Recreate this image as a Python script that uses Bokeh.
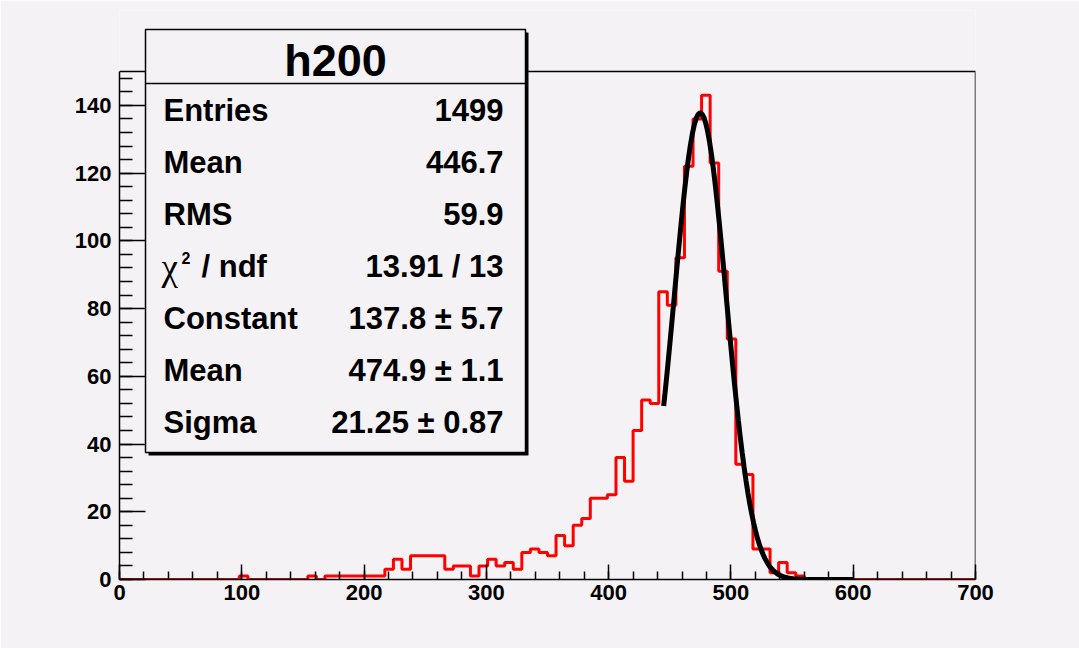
import numpy as np
from bokeh.plotting import figure
from bokeh.models import Range1d, SingleIntervalTicker
from bokeh.core.properties import value
from bokeh.embed import file_html
from bokeh.resources import INLINE

# ---- histogram h200: 100 bins over [0, 700] ----
X_MIN, X_MAX, N_BINS = 0, 700, 100
Y_MAX = 150

counts = [
    0, 0, 0, 0, 0, 0, 0, 0, 0, 0,
    0, 0, 0, 0, 1, 0, 0, 0, 0, 0,
    0, 0, 1, 0, 1, 1, 1, 1, 1, 1,
    1, 3, 6, 3, 7, 7, 7, 7, 3, 4,
    4, 1, 4, 6, 4, 5, 3, 8, 9, 8,
    7, 13, 10, 16, 18, 24, 24, 25, 36, 29,
    44, 53, 52, 85, 81, 95, 122, 136, 143, 123,
    91, 71, 34, 31, 9, 9, 2, 5, 2, 1,
    0, 0, 0, 0, 0, 0, 0, 0, 0, 0,
    0, 0, 0, 0, 0, 0, 0, 0, 0, 0,
]

# gaussian fit result
FIT_CONSTANT = 137.8
FIT_MEAN = 474.9
FIT_SIGMA = 21.25
FIT_RANGE = (445, 600)

# statistics box
stat_title = "h200"
stat_names = ["Entries", "Mean", "RMS", None, "Constant", "Mean", "Sigma"]
stat_values = ["1499", "446.7", "59.9", "13.91 / 13",
               "137.8 \u00b1 5.7", "474.9 \u00b1 1.1", "21.25 \u00b1 0.87"]

# ---- canvas layout (pixels) ----
W, H = 1079, 648
FRAME_L, FRAME_R = 119, 975
FRAME_T, FRAME_B = 10, 579          # plotting area (includes room for the stats box)
HIST_TOP_PX = 71                    # pixel row of y = Y_MAX
PX_PER_X = (FRAME_R - FRAME_L) / (X_MAX - X_MIN)
PX_PER_Y = (FRAME_B - HIST_TOP_PX) / Y_MAX
Y_TOP = (FRAME_B - FRAME_T) / PX_PER_Y

PAD = "#f5f2f5"
FONT = value("Liberation Sans")


def dx(px):
    return X_MIN + (px - FRAME_L) / PX_PER_X


def dy(py):
    return (FRAME_B - py) / PX_PER_Y


p = figure(width=W, height=H, title=None,
           x_range=Range1d(X_MIN, X_MAX), y_range=Range1d(0, Y_TOP),
           output_backend="svg", toolbar_location=None,
           min_border_left=FRAME_L, min_border_right=W - FRAME_R,
           min_border_top=FRAME_T, min_border_bottom=H - FRAME_B,
           background_fill_color=PAD, border_fill_color=PAD,
           outline_line_color=None)
p.grid.visible = False

# axes, ROOT style: ticks pointing into the frame
p.xaxis.ticker = SingleIntervalTicker(interval=100, num_minor_ticks=5)
p.yaxis.ticker = SingleIntervalTicker(interval=20, num_minor_ticks=5)
p.yaxis.bounds = (0, Y_MAX)
for ax, major, minor, standoff in ((p.xaxis, 15, 8, 5), (p.yaxis, 26, 13, 8)):
    ax.major_tick_in = major
    ax.major_tick_out = 0
    ax.minor_tick_in = minor
    ax.minor_tick_out = 0
    ax.axis_line_color = "black"
    ax.axis_line_width = 1.5
    ax.major_tick_line_color = "black"
    ax.major_tick_line_width = 1.5
    ax.minor_tick_line_color = "black"
    ax.minor_tick_line_width = 1.5
    ax.major_label_text_font = "Liberation Sans"
    ax.major_label_text_font_style = "bold"
    ax.major_label_text_font_size = "22px"
    ax.major_label_text_color = "black"
    ax.major_label_standoff = standoff

# top and right edges of the histogram frame
p.line([X_MIN, X_MAX, X_MAX], [Y_MAX, Y_MAX, 0], line_color="black", line_width=1.5)

# histogram outline
edges = np.linspace(X_MIN, X_MAX, N_BINS + 1)
heights = np.append(np.array(counts, dtype=float), counts[-1])
p.step(edges, heights, mode="after", line_color="red", line_width=3)

# fitted gaussian
fx = np.linspace(FIT_RANGE[0], FIT_RANGE[1], 100)
fy = FIT_CONSTANT * np.exp(-0.5 * ((fx - FIT_MEAN) / FIT_SIGMA) ** 2)
p.line(fx, fy, line_color="black", line_width=5)

# statistics box with shadow
BOX_L, BOX_R, BOX_T, BOX_B, BOX_SEP, SHADOW = 145, 525, 29, 452, 83, 3
p.quad(left=[dx(BOX_L + SHADOW)], right=[dx(BOX_R + SHADOW)],
       top=[dy(BOX_T + SHADOW)], bottom=[dy(BOX_B + SHADOW)],
       fill_color="black", line_color=None)
p.quad(left=[dx(BOX_L)], right=[dx(BOX_R)], top=[dy(BOX_T)], bottom=[dy(BOX_B)],
       fill_color=PAD, line_color="black", line_width=1.5)
p.line([dx(BOX_L), dx(BOX_R)], [dy(BOX_SEP), dy(BOX_SEP)], line_color="black", line_width=1.5)

p.text(x=[dx((BOX_L + BOX_R) / 2)], y=[dy(60)], text=[stat_title],
       text_font=FONT, text_font_style="bold", text_font_size="45px",
       text_align="center", text_baseline="middle", text_color="black")

# text rows, positioned by the vertical centre of their capitals
ROW0, ROW_STEP = 109.5, 52.1
NAME_X, VALUE_X = 163, 503
rows = [dy(ROW0 + k * ROW_STEP) for k in range(len(stat_values))]
name_rows = [(n, y) for n, y in zip(stat_names, rows) if n is not None]
p.text(x=[dx(NAME_X)] * len(name_rows), y=[y for _, y in name_rows],
       text=[n for n, _ in name_rows],
       text_font=FONT, text_font_style="bold", text_font_size="31px",
       text_align="left", text_baseline="middle", text_color="black")
p.text(x=[dx(VALUE_X)] * len(stat_values), y=rows, text=stat_values,
       text_font=FONT, text_font_style="bold", text_font_size="31px",
       text_align="right", text_baseline="middle", text_color="black")

# chi-square label: chi, superscript 2, "/ ndf"
chi_mid = ROW0 + 3 * ROW_STEP
p.text(x=[dx(161)], y=[dy(chi_mid + 1)], text=["\u03c7"],
       text_font=value("Liberation Serif"), text_font_size="37px",
       text_align="left", text_baseline="middle", text_color="black")
p.text(x=[dx(181)], y=[dy(chi_mid - 8)], text=["2"],
       text_font=FONT, text_font_style="bold", text_font_size="16px",
       text_align="left", text_baseline="middle", text_color="black")
p.text(x=[dx(201)], y=[dy(chi_mid)], text=["/ ndf"],
       text_font=FONT, text_font_style="bold", text_font_size="31px",
       text_align="left", text_baseline="middle", text_color="black")

open("out.html", "w").write(file_html(p, INLINE))
